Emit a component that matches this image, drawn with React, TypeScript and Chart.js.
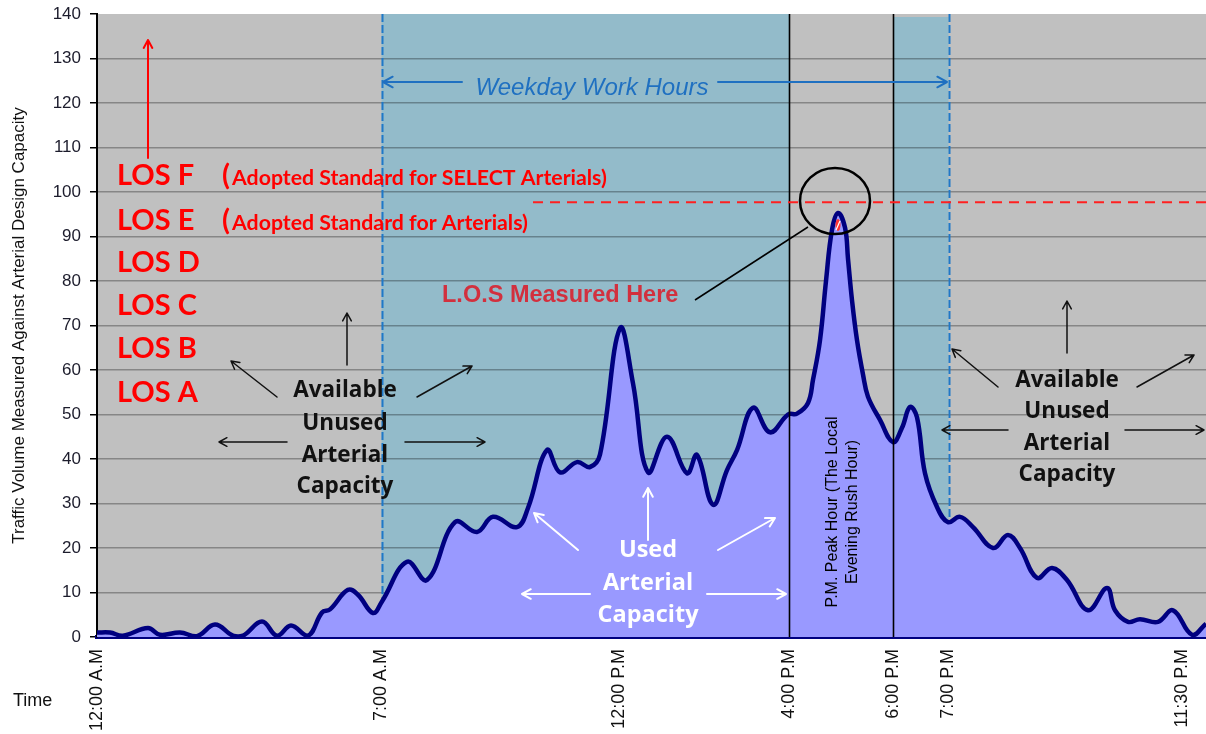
import React, { useEffect, useRef } from 'react';
import { Chart, registerables } from 'chart.js';

Chart.register(...registerables);

// ---- Data ----
const timeLabels = ['12:00 A.M', '7:00 A.M', '12:00 P.M', '4:00 P.M', '6:00 P.M', '7:00 P.M', '11:30 P.M'];
const timeTickSlots = [0, 56.9, 104.4, 138.4, 159.2, 170.3, 217];
const xSlotMax = 221.8;

const sampleSlots = [
  0, 2.6, 5.2, 10.2, 12.6, 16.6, 20, 23.6, 27.2, 29.2, 33, 36, 38.8, 42.2, 45, 46.6,
  50.2, 52.2, 55.2, 57, 62, 66, 71.6, 76, 79.2, 84, 86.2, 90, 92.6, 96, 98.6, 100.6,
  104.6, 107.2, 110.2, 114, 118, 120, 123.2, 126, 128, 131.2, 134.6, 138.2, 140, 142.2,
  143.2, 144.6, 145.8, 147, 148.2, 149.6, 150.2, 151, 152, 153.2, 154.2, 156.6, 159.2,
  161, 162.6, 164, 165.6, 168, 170.2, 172.6, 175.2, 179.2, 182.2, 184.6, 188, 191, 194,
  198.2, 202, 203.6, 206.2, 208.6, 212.2, 215.2, 219, 221.8,
];
const trafficVolume = [
  1.0, 1.0, 0.3, 2.0, 0.5, 1.0, 0.2, 2.8, 0.3, 0.3, 3.5, 0.3, 2.6, 0.3, 5.5, 6.2,
  10.6, 9.5, 5.4, 8.0, 16.9, 12.8, 25.8, 23.6, 27, 24.7, 29, 42, 37, 39.3, 38.2, 41,
  69.4, 57, 37, 45, 36.8, 40.9, 29.7, 37.5, 42, 51.5, 46, 50, 50.2, 52.6,
  57.8, 66.7, 80, 91.5, 95.3, 92, 85, 75.7, 66.7, 59, 54, 48.8, 43.8,
  47, 51.7, 49.4, 36.8, 29.2, 25.8, 27, 24.7, 20, 22.9, 20, 13.3, 15.5, 12.8,
  6, 11, 6, 3.4, 4, 3.4, 6, 0.5, 3,
];

const yMin = 0;
const yMax = 140;
const yStep = 10;
const losStandardLevel = 97.7;
const losLabels = ['LOS F', 'LOS E', 'LOS D', 'LOS C', 'LOS B', 'LOS A'];
const standardNotes = ['(Adopted Standard for SELECT Arterials)', '(Adopted Standard for Arterials)'];
const unusedText = ['Available', 'Unused', 'Arterial', 'Capacity'];
const usedText = ['Used', 'Arterial', 'Capacity'];
const peakText = ['P.M. Peak Hour (The Local', 'Evening Rush Hour)'];

const ARIAL = "'Liberation Sans', Arial, sans-serif";
const CAL = "Lato, 'Open Sans', sans-serif";
const OPEN = "'Open Sans', Lato, sans-serif";

function arrow(ctx: CanvasRenderingContext2D, x1: number, y1: number, x2: number, y2: number, color: string, w: number, head = 10) {
  ctx.save();
  ctx.strokeStyle = color;
  ctx.lineWidth = w;
  ctx.lineCap = 'round';
  ctx.lineJoin = 'round';
  const a = Math.atan2(y2 - y1, x2 - x1);
  ctx.beginPath();
  ctx.moveTo(x1, y1);
  ctx.lineTo(x2, y2);
  ctx.moveTo(x2 - head * Math.cos(a - 0.5), y2 - head * Math.sin(a - 0.5));
  ctx.lineTo(x2, y2);
  ctx.lineTo(x2 - head * Math.cos(a + 0.5), y2 - head * Math.sin(a + 0.5));
  ctx.stroke();
  ctx.restore();
}

function text(ctx: CanvasRenderingContext2D, s: string, x: number, y: number, font: string, color: string, align: CanvasTextAlign = 'left') {
  ctx.save();
  ctx.font = font;
  ctx.fillStyle = color;
  ctx.textAlign = align;
  ctx.textBaseline = 'alphabetic';
  ctx.fillText(s, x, y);
  ctx.restore();
}

const decorPlugin = {
  id: 'decor',
  beforeDraw(chart: any) {
    const { ctx, chartArea } = chart;
    const { left, right, top, bottom } = chartArea;
    const xs = chart.scales.x;
    ctx.save();
    ctx.fillStyle = '#c0c0c0';
    ctx.fillRect(left, top, right - left, bottom - top);
    ctx.fillStyle = '#93bbca';
    const a = xs.getPixelForValue(timeTickSlots[1]);
    const b = xs.getPixelForValue(timeTickSlots[3]);
    const c = xs.getPixelForValue(timeTickSlots[4]);
    const d = xs.getPixelForValue(timeTickSlots[5]);
    ctx.fillRect(a, top, b - a, bottom - top);
    ctx.fillRect(c, top + 3, d - c, bottom - top - 3);
    ctx.restore();
  },
  beforeDatasetsDraw(chart: any) {
    const { ctx, chartArea } = chart;
    const xs = chart.scales.x;
    ctx.save();
    ctx.strokeStyle = '#1f78c8';
    ctx.lineWidth = 2;
    ctx.setLineDash([8, 3]);
    [timeTickSlots[1], timeTickSlots[5]].forEach((v) => {
      const px = Math.round(xs.getPixelForValue(v)) + 0.5;
      ctx.beginPath();
      ctx.moveTo(px, chartArea.top);
      ctx.lineTo(px, chartArea.bottom);
      ctx.stroke();
    });
    ctx.restore();
  },
  afterDatasetsDraw(chart: any) {
    const { ctx, chartArea } = chart;
    const xs = chart.scales.x;
    const ys = chart.scales.y;

    // peak hour boundaries
    ctx.save();
    ctx.strokeStyle = '#000';
    ctx.lineWidth = 1.6;
    [timeTickSlots[3], timeTickSlots[4]].forEach((v) => {
      const px = Math.round(xs.getPixelForValue(v)) + 0.5;
      ctx.beginPath();
      ctx.moveTo(px, chartArea.top);
      ctx.lineTo(px, chartArea.bottom);
      ctx.stroke();
    });
    ctx.restore();

    // small red/white hatch at peak tip
    ctx.save();
    ctx.fillStyle = '#ff3030';
    ctx.beginPath();
    ctx.ellipse(838, 225, 2.5, 6, 0, 0, Math.PI * 2);
    ctx.fill();
    ctx.strokeStyle = '#fff';
    ctx.lineWidth = 1.2;
    ctx.beginPath();
    ctx.moveTo(836, 230);
    ctx.lineTo(840, 221);
    ctx.stroke();
    ctx.restore();

    // LOS standard dashed line
    const ly = ys.getPixelForValue(losStandardLevel);
    ctx.save();
    ctx.strokeStyle = '#ff2020';
    ctx.lineWidth = 2;
    ctx.setLineDash([10, 7]);
    ctx.beginPath();
    ctx.moveTo(533, ly);
    ctx.lineTo(chartArea.right, ly);
    ctx.stroke();
    ctx.restore();

    // circle around peak
    ctx.save();
    ctx.strokeStyle = '#000';
    ctx.lineWidth = 2.5;
    ctx.beginPath();
    ctx.ellipse(835, 201, 35, 33, 0, 0, Math.PI * 2);
    ctx.stroke();
    ctx.lineWidth = 1.5;
    ctx.beginPath();
    ctx.moveTo(695, 300);
    ctx.lineTo(808, 227);
    ctx.stroke();
    ctx.restore();

    // red up arrow
    arrow(ctx, 148, 158, 148, 40, '#ff0000', 2, 9);

    // LOS labels
    const losBase = [185, 230, 272, 315, 358, 402];
    losLabels.forEach((l, i) => text(ctx, l, 117, losBase[i], `bold 29px ${CAL}`, '#ff0000'));
    text(ctx, '(', 222, 185, `bold 29px ${CAL}`, '#ff0000');
    text(ctx, standardNotes[0].slice(1), 232, 185, `bold 21.3px ${CAL}`, '#ff0000');
    text(ctx, '(', 222, 230, `bold 29px ${CAL}`, '#ff0000');
    text(ctx, standardNotes[1].slice(1), 232, 230, `bold 21.3px ${CAL}`, '#ff0000');

    // Weekday work hours
    text(ctx, 'Weekday Work Hours', 592, 95, `italic 24px ${ARIAL}`, '#1f70c1', 'center');
    arrow(ctx, 462, 82, 383, 82, '#1f70c1', 2, 11);
    arrow(ctx, 718, 82, 947, 82, '#1f70c1', 2, 11);

    // LOS measured here
    text(ctx, 'L.O.S Measured Here', 442, 302, `bold 23.5px ${ARIAL}`, '#d2303e');

    // left unused block
    const lb = [397, 430, 462, 493];
    unusedText.forEach((s, i) => text(ctx, s, 345, lb[i], `bold 22.5px ${OPEN}`, '#111', 'center'));
    arrow(ctx, 347, 365, 347, 313, '#111', 1.5, 9);
    arrow(ctx, 277, 397, 231, 361, '#111', 1.5, 9);
    arrow(ctx, 287, 442, 219, 442, '#111', 1.5, 9);
    arrow(ctx, 405, 442, 485, 442, '#111', 1.5, 9);
    arrow(ctx, 417, 397, 472, 366, '#111', 1.5, 9);

    // right unused block
    const rb = [387, 418, 450, 481];
    unusedText.forEach((s, i) => text(ctx, s, 1067, rb[i], `bold 22.5px ${OPEN}`, '#111', 'center'));
    arrow(ctx, 1067, 353, 1067, 301, '#111', 1.5, 9);
    arrow(ctx, 998, 387, 952, 349, '#111', 1.5, 9);
    arrow(ctx, 1137, 387, 1194, 355, '#111', 1.5, 9);
    arrow(ctx, 1008, 430, 942, 430, '#111', 1.5, 9);
    arrow(ctx, 1125, 430, 1204, 430, '#111', 1.5, 9);

    // used block
    const ub = [557, 590, 622];
    usedText.forEach((s, i) => text(ctx, s, 648, ub[i], `bold 23.5px ${OPEN}`, '#fff', 'center'));
    arrow(ctx, 648, 540, 648, 488, '#fff', 2, 10);
    arrow(ctx, 578, 550, 534, 513, '#fff', 2, 10);
    arrow(ctx, 718, 550, 775, 518, '#fff', 2, 10);
    arrow(ctx, 590, 594, 522, 594, '#fff', 2, 10);
    arrow(ctx, 707, 594, 786, 594, '#fff', 2, 10);

    // peak hour rotated note
    ctx.save();
    ctx.font = `16px ${ARIAL}`;
    ctx.fillStyle = '#000';
    ctx.textAlign = 'center';
    ctx.textBaseline = 'middle';
    ctx.translate(833, 512);
    ctx.rotate(-Math.PI / 2);
    ctx.fillText(peakText[0], 0, 0);
    ctx.fillText(peakText[1], 0, 20);
    ctx.restore();

    // Time label
    text(ctx, 'Time', 13, 706, `18px ${ARIAL}`, '#111');
  },
};

export default function App() {
  const ref = useRef<HTMLCanvasElement>(null);
  useEffect(() => {
    const canvas = ref.current!;
    const chart = new Chart(canvas, {
      type: 'line',
      data: {
        datasets: [
          {
            data: sampleSlots.map((s, i) => ({ x: s, y: trafficVolume[i] })),
            borderColor: '#000080',
            backgroundColor: '#9999ff',
            borderWidth: 4.5,
            fill: 'origin',
            tension: 0.4,
            pointRadius: 0,
          },
        ],
      },
      options: {
        responsive: false,
        animation: false,
        devicePixelRatio: 1,
        layout: { padding: { top: 14, right: 0, left: 0, bottom: 0 } },
        plugins: { legend: { display: false }, tooltip: { enabled: false } },
        scales: {
          x: {
            type: 'linear',
            min: 0,
            max: xSlotMax,
            afterBuildTicks: (s: any) => {
              s.ticks = timeTickSlots.map((v) => ({ value: v }));
            },
            afterFit: (s: any) => {
              s.height = 97;
              s.paddingLeft = 0;
              s.paddingRight = 0;
            },
            ticks: {
              autoSkip: false,
              minRotation: 90,
              maxRotation: 90,
              padding: 12,
              color: '#111',
              font: { family: ARIAL, size: 18 },
              callback: (_v: any, i: number) => timeLabels[i],
            },
            grid: { drawOnChartArea: false, drawTicks: false },
            border: { color: '#000080', width: 4 },
          },
          y: {
            min: yMin,
            max: yMax,
            afterFit: (s: any) => {
              s.width = 97;
              s.paddingTop = 0;
              s.paddingBottom = 0;
            },
            ticks: {
              stepSize: yStep,
              padding: 9,
              color: '#1c1c2c',
              font: { family: ARIAL, size: 17 },
            },
            grid: {
              color: (c: any) => (c.tick && c.tick.value === yMax ? 'rgba(0,0,0,0)' : 'rgba(0,0,0,0.3)'),
              lineWidth: 1.5,
              tickLength: 7,
              tickColor: '#000',
            },
            border: { color: '#000', width: 2 },
            title: {
              display: true,
              text: 'Traffic Volume Measured Against Arterial Design Capacity',
              color: '#111',
              font: { family: ARIAL, size: 17 },
              padding: { top: 9, bottom: 0 },
            },
          },
        },
      },
      plugins: [decorPlugin],
    } as any);
    return () => chart.destroy();
  }, []);
  return (
    <div style={{ position: 'fixed', left: 0, top: 0, width: 1206, height: 734, background: '#fff' }}>
      <canvas ref={ref} width={1206} height={734} style={{ display: 'block' }} />
    </div>
  );
}
